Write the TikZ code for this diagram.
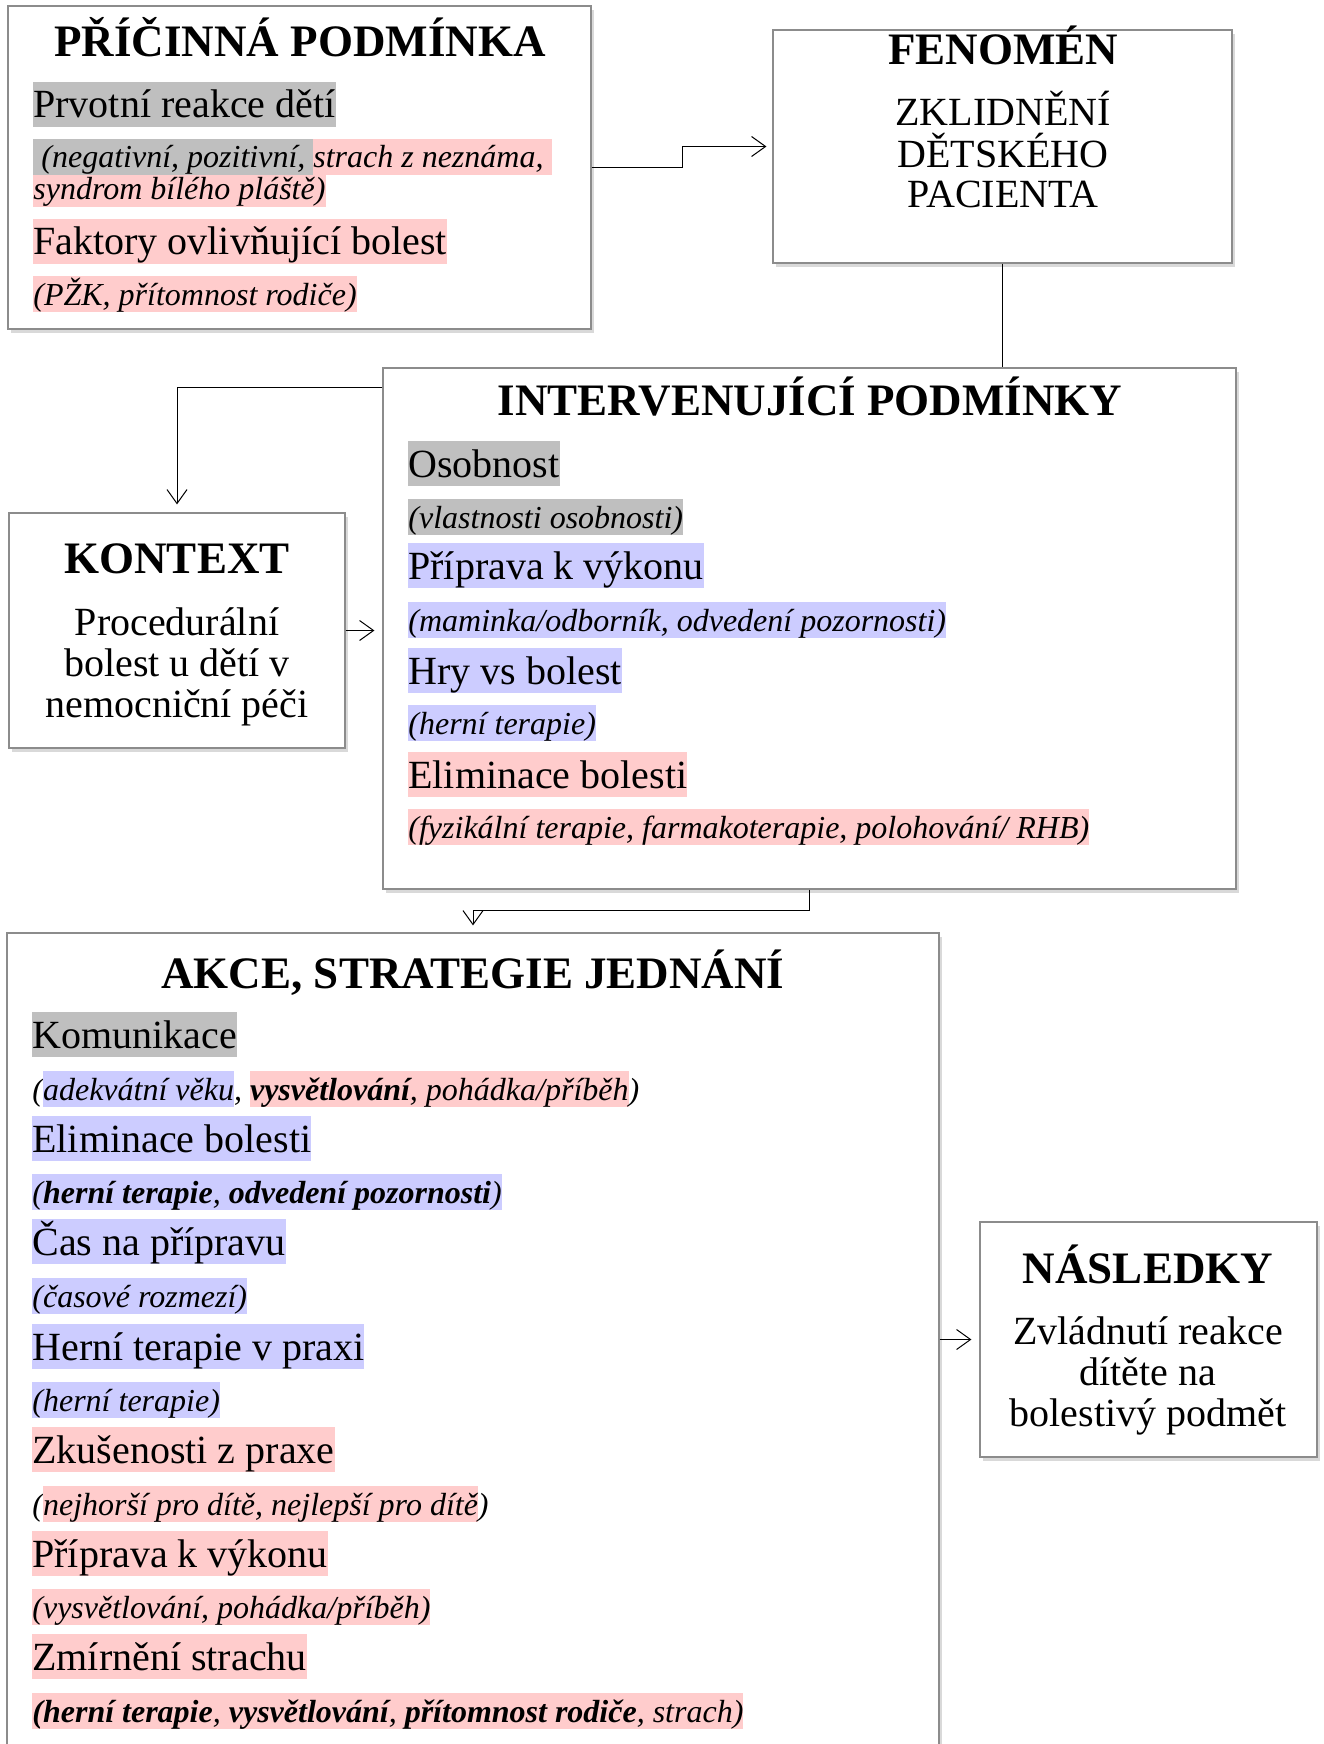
\documentclass[tikz,border=0pt]{standalone}
\usepackage{fontspec}
\setmainfont{Liberation Serif}
\usetikzlibrary{arrows.meta,positioning,fit,shadows}
\definecolor{hlgray}{RGB}{191,191,191}
\definecolor{hlpink}{RGB}{255,204,204}
\definecolor{hlblue}{RGB}{204,204,255}
\newcommand{\hlt}[2]{{\setlength{\fboxsep}{0pt}\colorbox{#1}{\rule[-0.23em]{0pt}{1.13em}#2}}}

\begin{document}
\begin{tikzpicture}[x=0.5pt,y=-0.5pt]
  \tikzstyle{box}=[draw=black!45, line width=0.6pt, fill=white, inner sep=0pt,
    drop shadow={opacity=0.3, shadow xshift=1.5pt, shadow yshift=-2pt}]
  \tikzstyle{ttl}=[font=\fontsize{22.5}{25}\selectfont\bfseries, anchor=base, inner sep=0pt]
  \tikzstyle{big}=[font=\fontsize{20}{22}\selectfont, anchor=base west, inner sep=0pt]
  \tikzstyle{sml}=[font=\fontsize{16}{18}\selectfont\itshape, anchor=base west, inner sep=0pt]
  \tikzstyle{mid}=[font=\fontsize{20}{20.5}\selectfont, anchor=base, align=center, inner sep=0pt]
  \tikzstyle{arr}=[-{Straight Barb[length=7pt,width=10pt]}, line width=0.5pt]

  \useasboundingbox (0,0) rectangle (1323,1744);

  \node[box, fit={(8,6) (591,329)}] (pricina) {};
  \node[box, fit={(773,30) (1232,263)}] (fenomen) {};
  \node[box, fit={(383,368) (1236,889)}] (interv) {};
  \node[box, fit={(9,513) (345,748)}] (kontext) {};
  \node[box, fit={(7,933) (939,1790)}] (akce) {};
  \node[box, fit={(980,1222) (1317,1457)}] (nasledky) {};

  \node[ttl] (pricina_t) at (300,57) {PŘÍČINNÁ PODMÍNKA};
  \node[big] (pricina_1) at (33,118) {\hlt{hlgray}{Prvotní reakce dětí}};
  \node[sml] (pricina_3) at (33,200) {\hlt{hlpink}{syndrom bílého pláště)}};
  \node[sml] (pricina_2) at (33,168) {\hlt{hlgray}{\ (negativní, pozitivní,\ }\hlt{hlpink}{strach z neznáma,\ }};
  \node[big] (pricina_4) at (33,255) {\hlt{hlpink}{Faktory ovlivňující bolest}};
  \node[sml] (pricina_5) at (33,305) {\hlt{hlpink}{(PŽK, přítomnost rodiče)}};

  \node[ttl] (fenomen_t) at (1003,65) {FENOMÉN};
  \node[mid] (fenomen_b) at (1003,208) {ZKLIDNĚNÍ\\DĚTSKÉHO\\PACIENTA};

  \node[ttl] (kontext_t) at (177,573) {KONTEXT};
  \node[mid] (kontext_b) at (177,717) {Procedurální\\bolest u dětí v\\nemocniční péči};

  \node[ttl] (interv_t) at (810,415) {INTERVENUJÍCÍ PODMÍNKY};
  \node[big] (interv_1) at (408,477) {\hlt{hlgray}{Osobnost}};
  \node[sml] (interv_2) at (408,528) {\hlt{hlgray}{(vlastnosti osobnosti)}};
  \node[big] (interv_3) at (408,579) {\hlt{hlblue}{Příprava k výkonu}};
  \node[sml] (interv_4) at (408,631) {\hlt{hlblue}{(maminka/odborník, odvedení pozornosti)}};
  \node[big] (interv_5) at (408,684) {\hlt{hlblue}{Hry vs bolest}};
  \node[sml] (interv_6) at (408,734) {\hlt{hlblue}{(herní terapie)}};
  \node[big] (interv_7) at (408,788) {\hlt{hlpink}{Eliminace bolesti}};
  \node[sml] (interv_8) at (408,838) {\hlt{hlpink}{(fyzikální terapie, farmakoterapie, polohování/ RHB)}};

  \node[ttl] (akce_t) at (473,988) {AKCE, STRATEGIE JEDNÁNÍ};
  \node[big] (akce_1) at (32,1048) {\hlt{hlgray}{Komunikace}};
  \node[sml] (akce_2) at (32,1100) {(\hlt{hlblue}{adekvátní věku}, \hlt{hlpink}{\textbf{vysvětlování}, pohádka/příběh})};
  \node[big] (akce_3) at (32,1152) {\hlt{hlblue}{Eliminace bolesti}};
  \node[sml] (akce_4) at (32,1203) {\hlt{hlblue}{(\textbf{herní terapie}, \textbf{odvedení pozornosti})}};
  \node[big] (akce_5) at (32,1255) {\hlt{hlblue}{Čas na přípravu}};
  \node[sml] (akce_6) at (32,1307) {\hlt{hlblue}{(časové rozmezí)}};
  \node[big] (akce_7) at (32,1360) {\hlt{hlblue}{Herní terapie v praxi}};
  \node[sml] (akce_8) at (32,1411) {\hlt{hlblue}{(herní terapie)}};
  \node[big] (akce_9) at (32,1463) {\hlt{hlpink}{Zkušenosti z praxe}};
  \node[sml] (akce_10) at (32,1515) {(\hlt{hlpink}{nejhorší pro dítě, nejlepší pro dítě})};
  \node[big] (akce_11) at (32,1567) {\hlt{hlpink}{Příprava k výkonu}};
  \node[sml] (akce_12) at (32,1618) {\hlt{hlpink}{(vysvětlování, pohádka/příběh)}};
  \node[big] (akce_13) at (32,1670) {\hlt{hlpink}{Zmírnění strachu}};
  \node[sml] (akce_14) at (32,1722) {\hlt{hlpink}{\textbf{(herní terapie}, \textbf{vysvětlování}, \textbf{přítomnost rodiče}, strach)}};

  \node[ttl] (nasledky_t) at (1148,1283) {NÁSLEDKY};
  \node[mid] (nasledky_b) at (1148,1426) {Zvládnutí reakce\\dítěte na\\bolestivý podmět};

  \draw[arr] (pricina.east) -- ++(91,0) |- ([xshift=-3pt]fenomen.west);
  \draw[line width=0.5pt] (fenomen.south) -- (fenomen.south |- interv.north);
  \draw[arr] ([yshift=-10pt]interv.north west) -| ([yshift=4pt]kontext.north);
  \draw[arr] (kontext.east) -- ([xshift=-4pt]kontext.east -| interv.west);
  \draw[arr] (interv.south) -- ++(0,21) -| ([yshift=3.5pt]akce.north);
  \draw[arr] (akce.east |- nasledky.west) -- ([xshift=-4pt]nasledky.west);
\end{tikzpicture}
\end{document}
